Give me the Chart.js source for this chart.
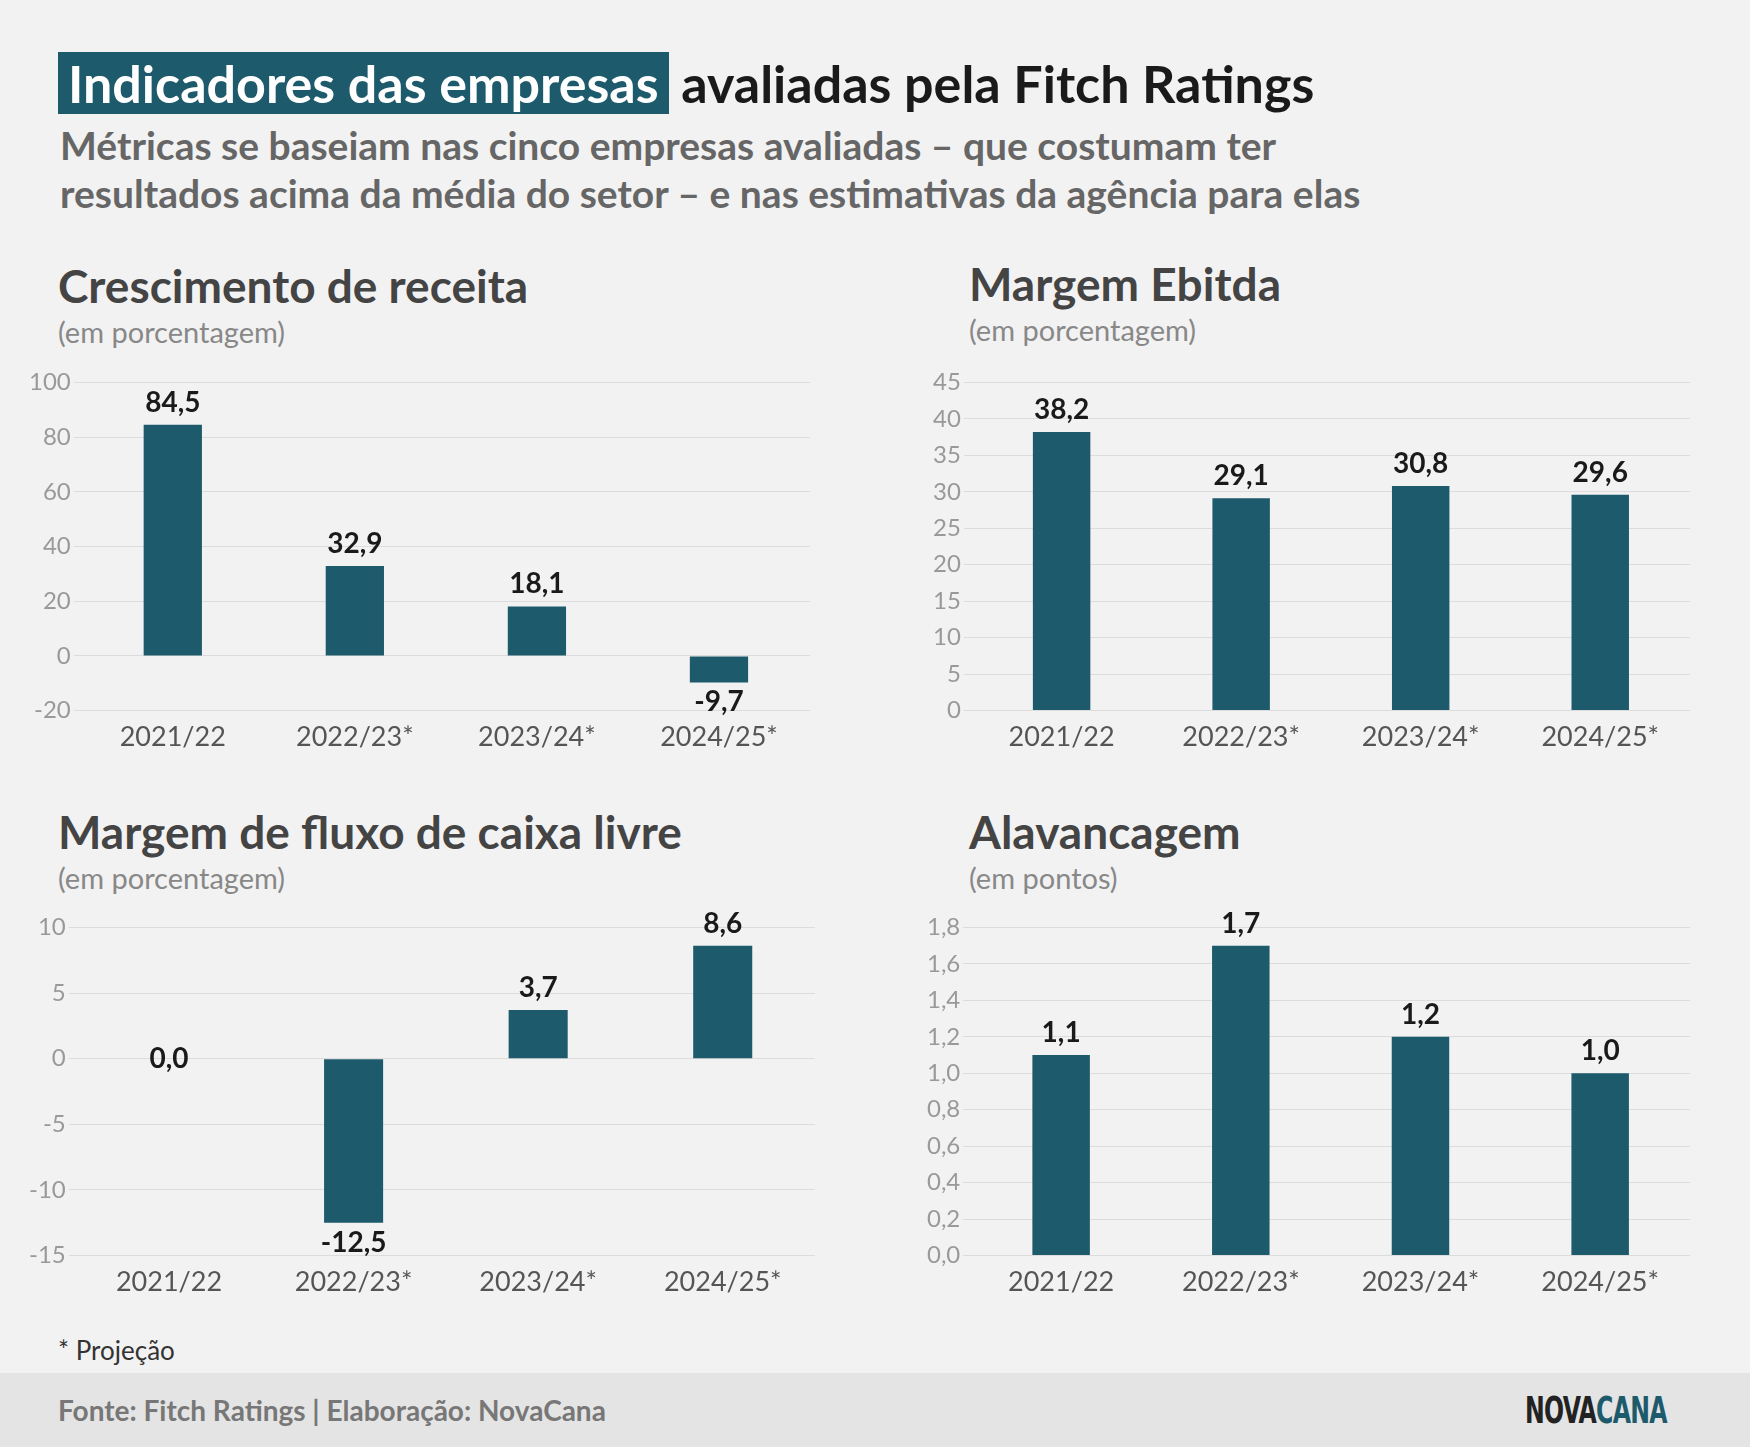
<!DOCTYPE html>
<html><head><meta charset="utf-8">
<script src="https://cdn.jsdelivr.net/npm/chart.js@4"></script>
<style>
body{margin:0;width:1750px;height:1447px;background:#f2f2f2;font-family:Lato,sans-serif;position:relative;overflow:hidden}
.a{position:absolute;white-space:nowrap}
.t{font-weight:bold;color:#444;font-size:46px}
.s{color:#888;font-size:29px}
.c{position:absolute}
</style></head><body>
<div class="a" style="left:58px;top:52px;font-size:52px;font-weight:bold;color:#1a1a1a"><span style="background:#1d5a6b;color:#fff;padding:0 10px">Indicadores das empresas</span> avaliadas pela Fitch Ratings</div>
<div class="a" style="left:60px;top:121px;font-size:39px;font-weight:bold;color:#666;line-height:48px">Métricas se baseiam nas cinco empresas avaliadas – que costumam ter<br>resultados acima da média do setor – e nas estimativas da agência para elas</div>
<div class="a t" style="left:58px;top:258px">Crescimento de receita</div>
<div class="a s" style="left:58px;top:314px">(em porcentagem)</div>
<div class="a t" style="left:969px;top:256px">Margem Ebitda</div>
<div class="a s" style="left:969px;top:312px">(em porcentagem)</div>
<div class="a t" style="left:58px;top:804px">Margem de fluxo de caixa livre</div>
<div class="a s" style="left:58px;top:860px">(em porcentagem)</div>
<div class="a t" style="left:969px;top:804px">Alavancagem</div>
<div class="a s" style="left:969px;top:860px">(em pontos)</div>
<div class="c" style="left:20px;top:365px;width:800px;height:390px"><canvas id="c1"></canvas></div>
<div class="c" style="left:920px;top:365px;width:780px;height:390px"><canvas id="c2"></canvas></div>
<div class="c" style="left:20px;top:910px;width:805px;height:390px"><canvas id="c3"></canvas></div>
<div class="c" style="left:920px;top:910px;width:780px;height:390px"><canvas id="c4"></canvas></div>
<div class="a" style="left:58px;top:1334px;font-size:26px;color:#333">* Projeção</div>
<div class="a" style="left:0;top:1373px;width:1750px;height:74px;background:#e4e4e4"></div>
<div class="a" style="left:58px;top:1393px;font-size:28px;font-weight:bold;color:#777">Fonte: Fitch Ratings | Elaboração: NovaCana</div>
<div class="a" style="left:1525px;top:1388px;font-size:38px;font-weight:bold;font-family:'DejaVu Sans Condensed';letter-spacing:-1px;transform:scaleX(0.69);transform-origin:left top"><span style="color:#222">NOVA</span><span style="color:#1d5a6b">CANA</span></div>
<script>
const categories=['2021/22','2022/23*','2023/24*','2024/25*'];
const receita=[84.5,32.9,18.1,-9.7];
const ebitda=[38.2,29.1,30.8,29.6];
const fluxo=[0.0,-12.5,3.7,8.6];
const alavancagem=[1.1,1.7,1.2,1.0];
const fmt=v=>v.toFixed(1).replace('.',',');
const labels={id:'lbl',afterDatasetsDraw(ch){const c=ch.ctx;const m=ch.getDatasetMeta(0);c.save();c.font='bold 28px Lato';c.fillStyle='#1a1a1a';c.textAlign='center';
m.data.forEach((b,i)=>{const v=ch.data.datasets[0].data[i];if(v<0){c.textBaseline='top';c.fillText(fmt(v),b.x,b.y+6);}else if(v===0){c.textBaseline='middle';c.fillText(fmt(v),b.x,b.y);}else{c.textBaseline='bottom';c.fillText(fmt(v),b.x,b.y-8);}});c.restore();}};
function mk(id,data,min,max,step,tickFmt,padL){
new Chart(document.getElementById(id),{type:'bar',data:{labels:categories,datasets:[{data,backgroundColor:'#1d5a6b',barPercentage:0.32,categoryPercentage:1}]},
options:{responsive:true,maintainAspectRatio:false,animation:false,layout:{padding:{top:10,right:10,left:padL}},plugins:{legend:{display:false},tooltip:{enabled:false}},
scales:{x:{grid:{display:false},border:{display:false},ticks:{color:'#555',font:{family:'Lato',size:27},padding:2}},
y:{min,max,ticks:{stepSize:step,color:'#999',font:{family:'Lato',size:24},callback:tickFmt},grid:{color:'#dcdcdc'},border:{display:false}}}},plugins:[labels]});}
mk('c1',receita,-20,100,20,v=>v,6);
mk('c2',ebitda,0,45,5,v=>v,10);
mk('c3',fluxo,-15,10,5,v=>v,6);
mk('c4',alavancagem,0,1.8,0.2,v=>v.toFixed(1).replace('.',','),4);
</script>
</body></html>
